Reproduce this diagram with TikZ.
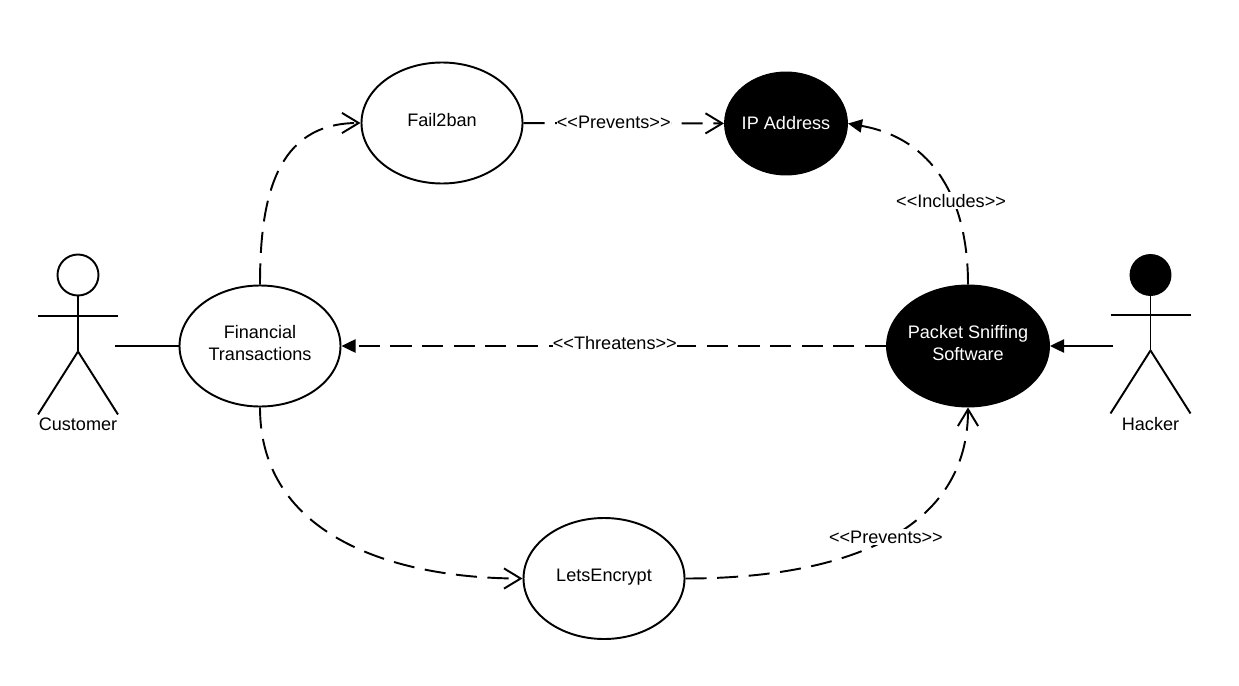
\documentclass[tikz,border=0pt]{standalone}
\usepackage{fontspec}
\setmainfont{Liberation Sans}
\usetikzlibrary{arrows.meta,shapes.geometric}
\newcommand{\sink}[1][3.4pt]{\rule[-#1]{0pt}{0pt}}

\begin{document}
\begin{tikzpicture}[
  font=\fontsize{10.3}{12.6}\selectfont,
  line width=1.1pt,
  usecase/.style={draw, ellipse, minimum width=3.22cm, minimum height=2.42cm,
    inner sep=0pt, align=center, fill=white},
  threat/.style={usecase, fill=black, text=white, inner xsep=-8pt},
  head/.style={draw, circle, minimum size=0.82cm, inner sep=0pt},
  dep/.style={dash pattern=on 12pt off 6pt},
  open/.style={-{Straight Barb[length=9.5pt,width=11.5pt]}},
  solidtip/.style={-{Triangle[length=8pt,width=7.5pt]}},
  lab/.style={fill=white, inner xsep=0pt, inner ysep=1pt},
]
\useasboundingbox (0,0) rectangle (24.78,13.7);
\node[usecase] (fin) at (5.2,6.78) {Financial\\Transactions\sink};
\node[usecase] (fail) at (8.84,11.24) {Fail2ban\sink};
\node[usecase] (lets) at (12.08,2.13) {LetsEncrypt\sink};
\node[threat, minimum width=2.44cm, minimum height=2.04cm] (ip) at (15.72,11.23) {IP Address\sink[1.2pt]};
\node[threat, minimum width=3.24cm] (sniff) at (19.36,6.78) {Packet Sniffing\\Software\sink};

% actors
\node[head] (custhead) at (1.56,8.2) {};
\draw (custhead.south) -- ++(0,-1.1) coordinate (custhip);
\draw (custhead.south) ++(-0.8,-0.39) -- ++(1.6,0);
\draw (custhip) -- ++(-0.8,-1.26);
\draw (custhip) -- ++(0.8,-1.26);
\node (custname) at (1.56,5.22) {Customer};
\coordinate (custhand) at (2.3,6.78);

\node[head, fill=black, minimum size=0.8cm] (hackhead) at (23.01,8.2) {};
\draw (hackhead.south) -- ++(0,-1.09) coordinate (hackhip);
\draw (hackhead.south) ++(-0.8,-0.38) -- ++(1.6,0);
\draw (hackhip) -- ++(-0.8,-1.26);
\draw (hackhip) -- ++(0.8,-1.26);
\node (hackname) at (23.01,5.22) {Hacker};
\coordinate (hackhand) at (22.26,6.78);

\draw (custhand) -- (fin);
\draw[solidtip] (hackhand) -- (sniff);
\draw[dep, open] (fin) to[out=90, in=180, looseness=1.15] (fail);
\draw[dep, open] (fail) -- node[lab, pos=0.45, yshift=0.6pt] {<{}<Prevents>{}>} (ip);
\draw[dep, open] (fin) to[out=-90, in=180, looseness=1.05] (lets);
\draw[dep, open] (lets) to[out=0, in=-90, looseness=1.05] node[lab, pos=0.5, xshift=4.7pt, yshift=4pt] {<{}<Prevents>{}>} (sniff);
\draw[dep, solidtip] (sniff) -- node[lab, pos=0.5, yshift=1.5pt, xshift=0.6pt] {<{}<Threatens>{}>} (fin);
\draw[dep, solidtip] (sniff) to[out=90, in=-10, looseness=1.1] node[lab, pos=0.37, xshift=-1pt] {<{}<Includes>{}>} (ip.east);
\end{tikzpicture}
\end{document}
